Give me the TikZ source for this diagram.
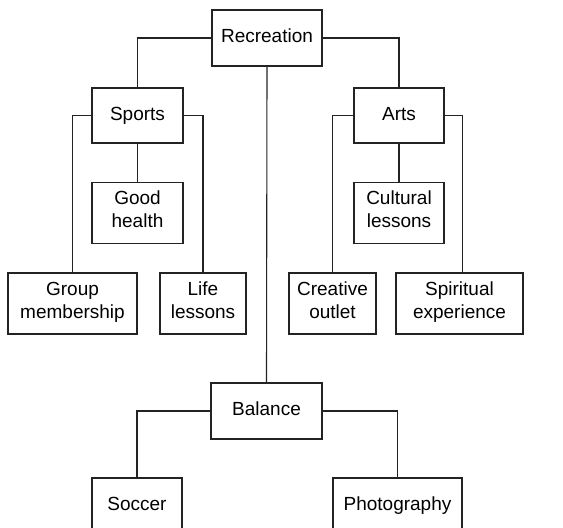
\documentclass[tikz,border=0pt]{standalone}
\usepackage{fontspec}
\setmainfont{Liberation Sans}
\usepackage{tikz}
\usetikzlibrary{positioning}
\definecolor{lineGray}{RGB}{35,35,35}
\tikzset{
  basebox/.style={rectangle,draw=lineGray,line width=1.1pt,align=center,
    font=\fontsize{19}{23}\selectfont,inner sep=2pt,
    execute at begin node={\strut},execute at end node={\strut}},
  topnode/.style={basebox,minimum width=110pt,minimum height=56pt},
  midnode/.style={basebox,minimum width=91pt,minimum height=55pt},
  leafnode/.style={basebox,minimum height=61pt},
  link/.style={draw=lineGray,line width=1.1pt}
}

\begin{document}
\begin{tikzpicture}[x=1pt,y=-1pt]
  \useasboundingbox (0,0) rectangle (563,528);
  %% Top level
  \node[topnode] (rec) at (267,38) {Recreation};
  \node[midnode] (sports) at (137.5,115.5) {Sports};
  \node[midnode,minimum width=90pt] (arts) at (399,115.5) {Arts};

  \node[leafnode,minimum width=91pt,below=38pt of sports] (health) {Good\\health};
  \node[leafnode,minimum width=90pt,below=38pt of arts] (cultural) {Cultural\\lessons};

  %% Leaves
  \node[leafnode,minimum width=129pt] (group) at (72.5,303.5) {Group\\membership};
  \node[leafnode,minimum width=86pt] (life) at (203,303.5) {Life\\lessons};
  \node[leafnode,minimum width=87pt] (creative) at (332.5,303.5) {Creative\\outlet};
  \node[leafnode,minimum width=127pt] (spiritual) at (459.5,303.5) {Spiritual\\experience};

  %% Bottom level
  \node[topnode,minimum width=111pt] (balance) at (266.5,411) {Balance};
  \node[topnode,minimum width=90pt] (soccer) at (137,506) {Soccer};
  \node[topnode,minimum width=129pt] (photo) at (397.5,506) {Photography};

  \draw[link] (rec.west) -| (sports.north);
  \draw[link] (rec.east) -| (arts.north);
  \draw[link] (rec.south) -- (balance.north);
  \draw[link] (sports.south) -- (health.north);
  \draw[link] (arts.south) -- (cultural.north);
  \draw[link] (sports.west) -| (group.north);
  \draw[link] (sports.east) -| (life.north);
  \draw[link] (arts.west) -| (creative.north);
  \draw[link] (arts.east) -| ([xshift=3pt]spiritual.north);
  \draw[link] (balance.west) -| (soccer.north);
  \draw[link] (balance.east) -| (photo.north);
\end{tikzpicture}
\end{document}
